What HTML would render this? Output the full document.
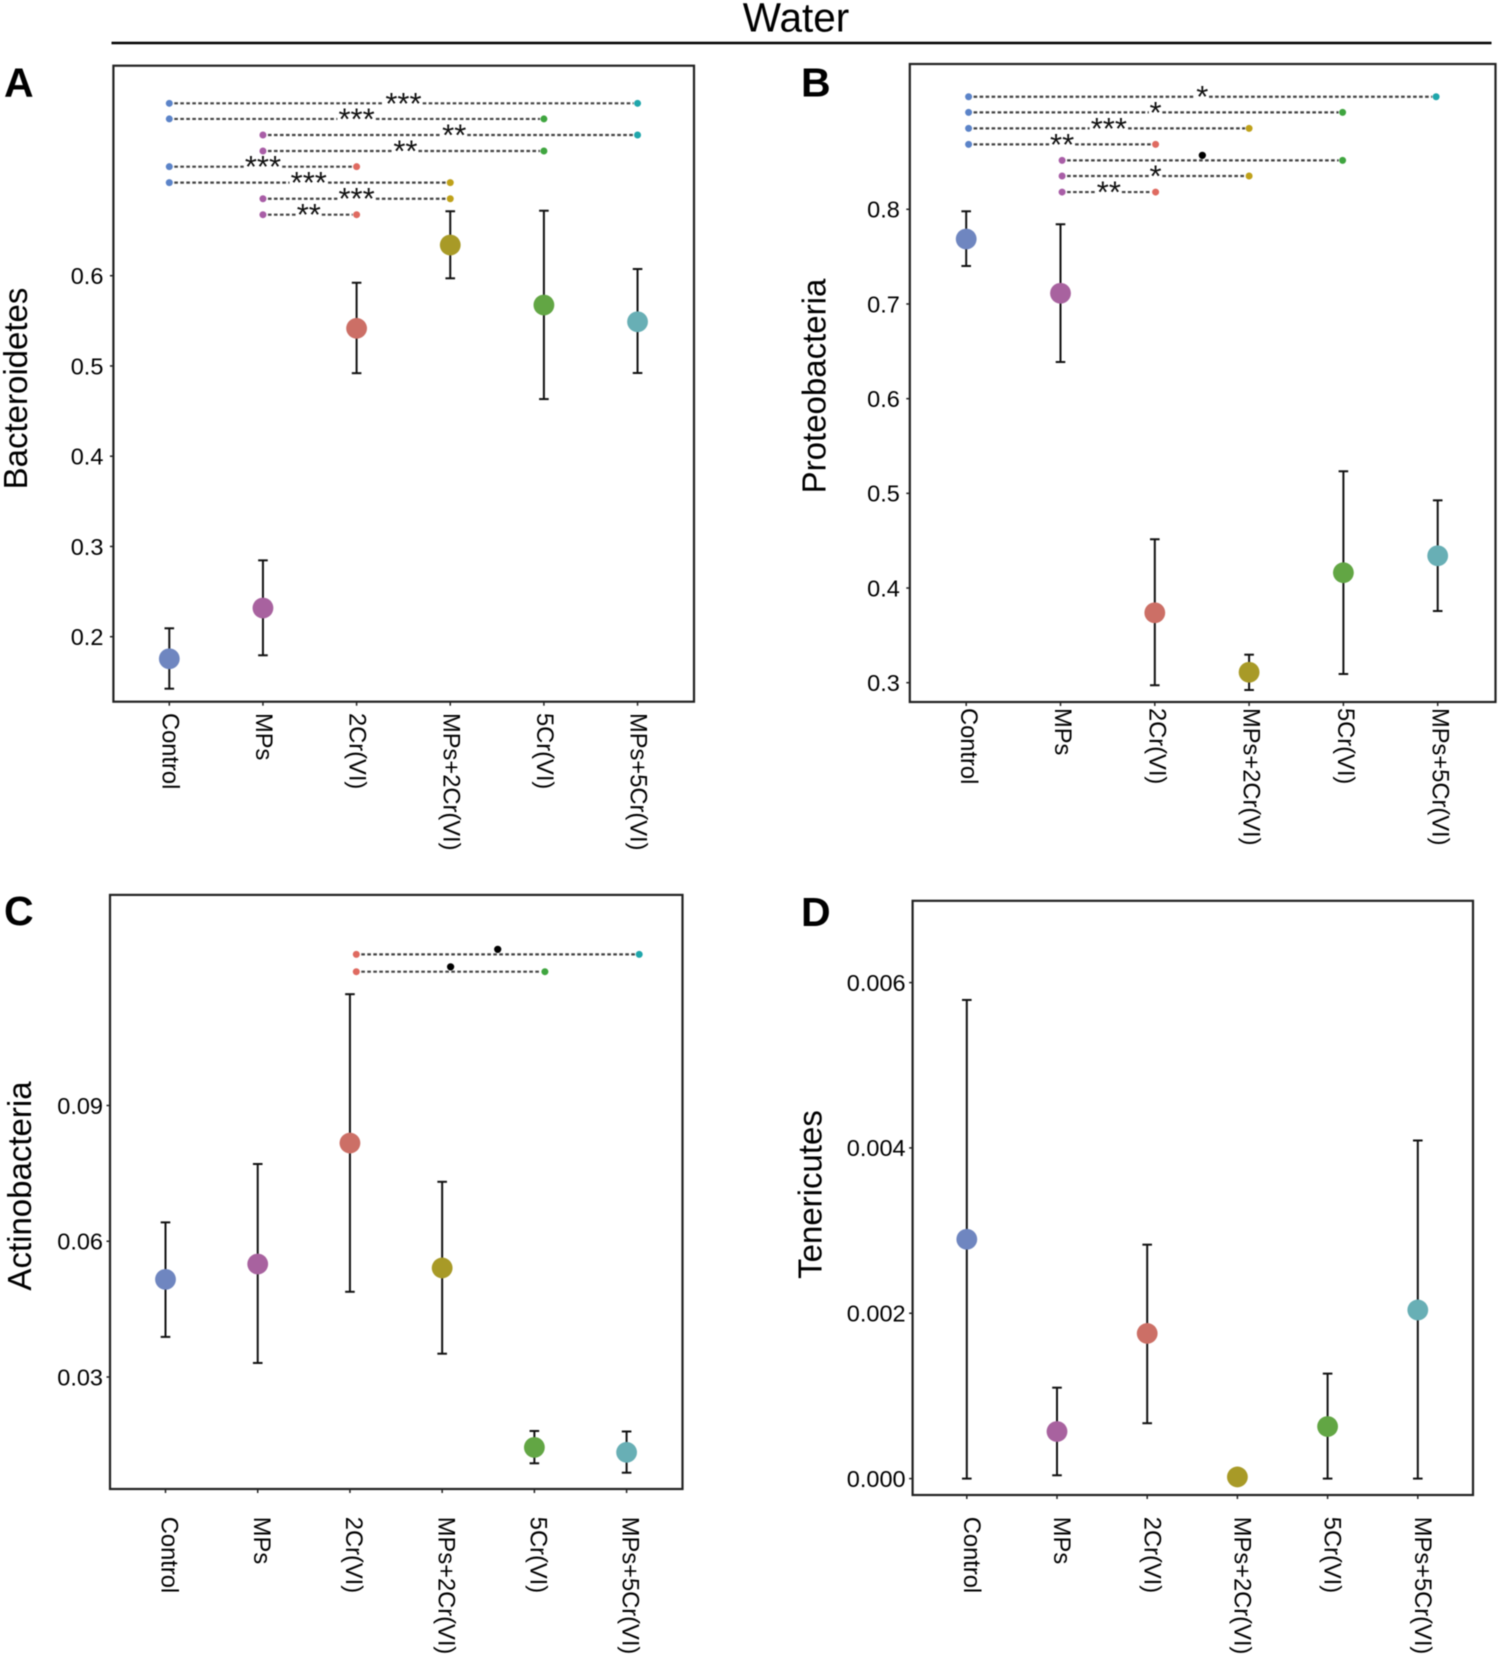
<!DOCTYPE html>
<html lang="en">
<head>
<meta charset="utf-8">
<title>Water phyla abundance</title>
<style>
html,body{margin:0;padding:0;background:#fff;}
svg{display:block;filter:blur(0.4px);}
text{font-family:"Liberation Sans",Arial,sans-serif;fill:#000;}
</style>
</head>
<body>
<svg id="fig" xmlns="http://www.w3.org/2000/svg" width="1499" height="1657" viewBox="0 0 1499 1657">
  <rect x="0" y="0" width="1499" height="1657" fill="#ffffff"/>
  <text x="796" y="31.5" font-size="40.5" text-anchor="middle">Water</text>
  <line x1="111.5" y1="43" x2="1491.5" y2="43" stroke="#000" stroke-width="2.6"/>
  <g id="panel-a"></g>
  <g id="panel-b"></g>
  <g id="panel-c"></g>
  <g id="panel-d"></g>
</svg>
<script>
// ---------- shared data ----------
const categories = ["Control", "MPs", "2Cr(VI)", "MPs+2Cr(VI)", "5Cr(VI)", "MPs+5Cr(VI)"];

// ---------- panel A: Bacteroidetes ----------
const aMeans = [0.1756, 0.2318, 0.5417, 0.634, 0.5675, 0.549];
const aUpper = [0.2093, 0.2846, 0.5922, 0.6714, 0.672, 0.6074];
const aLower = [0.1424, 0.1794, 0.492, 0.5971, 0.4633, 0.4922];
const aTicks = [0.2, 0.3, 0.4, 0.5, 0.6];
const aTickLabels = ["0.2", "0.3", "0.4", "0.5", "0.6"];
const aBracketFrom = [0, 0, 1, 1, 0, 0, 1, 1];
const aBracketTo = [5, 4, 5, 4, 2, 3, 3, 2];
const aBracketLevel = [0.791, 0.7737, 0.7559, 0.7382, 0.7208, 0.7031, 0.6853, 0.6676];
const aBracketLabel = ["***", "***", "**", "**", "***", "***", "***", "**"];

// ---------- panel B: Proteobacteria ----------
const bMeans = [0.7686, 0.7113, 0.3739, 0.311, 0.4162, 0.4341];
const bUpper = [0.7979, 0.7842, 0.4515, 0.3296, 0.5233, 0.4926];
const bLower = [0.7401, 0.6387, 0.2973, 0.2923, 0.3092, 0.3757];
const bTicks = [0.3, 0.4, 0.5, 0.6, 0.7, 0.8];
const bTickLabels = ["0.3", "0.4", "0.5", "0.6", "0.7", "0.8"];
const bBracketFrom = [0, 0, 0, 0, 1, 1, 1];
const bBracketTo = [5, 4, 3, 2, 4, 3, 2];
const bBracketLevel = [0.9189, 0.9024, 0.8855, 0.8686, 0.8517, 0.8352, 0.8182];
const bBracketLabel = ["*", "*", "***", "**", "•", "*", "**"];

// ---------- panel C: Actinobacteria ----------
const cMeans = [0.05157, 0.05497, 0.0817, 0.0541, 0.01444, 0.01336];
const cUpper = [0.06417, 0.07707, 0.1146, 0.07314, 0.01807, 0.01796];
const cLower = [0.03886, 0.0331, 0.04883, 0.03515, 0.01093, 0.00885];
const cTicks = [0.03, 0.06, 0.09];
const cTickLabels = ["0.03", "0.06", "0.09"];
const cBracketFrom = [2, 2];
const cBracketTo = [5, 4];
const cBracketLevel = [0.1234, 0.11957];
const cBracketLabel = ["•", "•"];

// ---------- panel D: Tenericutes ----------
const dMeans = [0.002895, 0.00057, 0.001756, 0.00002, 0.00063, 0.00204];
const dUpper = [0.00579, 0.0011, 0.00283, 0.00004, 0.00127, 0.00409];
const dLower = [0, 0.00004, 0.00067, 0, 0, 0];
const dTicks = [0, 0.002, 0.004, 0.006];
const dTickLabels = ["0.000", "0.002", "0.004", "0.006"];
const dBracketFrom = [];
const dBracketTo = [];
const dBracketLevel = [];
const dBracketLabel = [];

// ---------- colours ----------
const markerColors = ["#6f86c0", "#a8629f", "#cc6f66", "#a89a27", "#62a644", "#68afb5"];
const endColors = ["#5b83c8", "#a85da6", "#df6a60", "#bfa11a", "#3fa53f", "#1fa6ab"];

// ---------- layout of each panel (pixels, separate from data) ----------
const panels = [
  {id:"panel-a", key:"a", title:"Bacteroidetes", letter:"A", letterX:4, letterY:96.7, titleX:27, titleY:388.5, tickGap:10,
   frame:[113.4,65.7,694,701.7], catX0:169.3, catStep:93.65, brX0:169.3, brStep:93.65, labelY:713, labelDx:1.5,
   sigNudge:[0, 0, 4, 2, 0, -1, 0, -1],
   anchorV:0.2, anchorY:636.7, pxPerUnit:902.5, means:aMeans, upper:aUpper, lower:aLower, ticks:aTicks, tickLabels:aTickLabels,
   from:aBracketFrom, to:aBracketTo, level:aBracketLevel, sig:aBracketLabel},
  {id:"panel-b", key:"b", title:"Proteobacteria", letter:"B", letterX:801, letterY:96.7, titleX:825.5, titleY:386, tickGap:10,
   frame:[909.8,64,1495.5,702], catX0:966.2, catStep:94.3, brX0:968.6, brStep:93.5, labelY:708, labelDx:3,
   sigNudge:[0, 0, 0, 0, 0, 0, 0],
   anchorV:0.3, anchorY:682.7, pxPerUnit:946.8, means:bMeans, upper:bUpper, lower:bLower, ticks:bTicks, tickLabels:bTickLabels,
   from:bBracketFrom, to:bBracketTo, level:bBracketLevel, sig:bBracketLabel},
  {id:"panel-c", key:"c", title:"Actinobacteria", letter:"C", letterX:4, letterY:925, titleX:31, titleY:1186, tickGap:7,
   frame:[110,894.9,682.5,1489], catX0:165.5, catStep:92.22, brX0:167.7, brStep:94.3, labelY:1516.8, labelDx:4.5,
   sigNudge:[0, 0],
   anchorV:0.03, anchorY:1377, pxPerUnit:4525, means:cMeans, upper:cUpper, lower:cLower, ticks:cTicks, tickLabels:cTickLabels,
   from:cBracketFrom, to:cBracketTo, level:cBracketLevel, sig:cBracketLabel},
  {id:"panel-d", key:"d", title:"Tenericutes", letter:"D", letterX:801, letterY:926, titleX:821.7, titleY:1194.5, tickGap:7,
   frame:[912.6,900.8,1473,1495], catX0:966.8, catStep:90.2, brX0:966.8, brStep:90.2, labelY:1516.8, labelDx:5.5,
   sigNudge:[],
   anchorV:0, anchorY:1478.6, pxPerUnit:82667, means:dMeans, upper:dUpper, lower:dLower, ticks:dTicks, tickLabels:dTickLabels,
   from:dBracketFrom, to:dBracketTo, level:dBracketLevel, sig:dBracketLabel}
];

const NS = "http://www.w3.org/2000/svg";
function mk(parent, tag, attrs, txt) {
  const node = document.createElementNS(NS, tag);
  for (const k in attrs) node.setAttribute(k, attrs[k]);
  if (txt !== undefined) node.textContent = txt;
  parent.appendChild(node);
  return node;
}
function slug(s) { return s.toLowerCase().replace(/[^a-z0-9]+/g, "-").replace(/-$/, ""); }

panels.forEach(function (p) {
  const g = document.getElementById(p.id);
  const xScale = function (i) { return p.catX0 + i * p.catStep; };
  const bxScale = function (i) { return p.brX0 + i * p.brStep; };
  const yScale = function (v) { return p.anchorY - (v - p.anchorV) * p.pxPerUnit; };
  const L = p.frame[0], T = p.frame[1], R = p.frame[2], B = p.frame[3];
  let el;

  el = mk(g, "text", {x:p.letterX, y:p.letterY, "font-size":41, "font-weight":"bold", style:"fill:#000"}, p.letter);
  
  

  el = mk(g, "text", {x:p.titleX, y:p.titleY, "font-size":33, "text-anchor":"middle", transform:"rotate(-90 " + p.titleX + " " + p.titleY + ")"}, p.title);
  
  

  el = mk(g, "rect", {x:L, y:T, width:R - L, height:B - T, fill:"none", stroke:"#222", "stroke-width":2.2});
  
  

  // y axis
  p.ticks.forEach(function (v, i) {
    const y = yScale(v);
    const t = mk(g, "line", {x1:L - 3.5, y1:y, x2:L, y2:y, stroke:"#222", "stroke-width":1.5});
    
    
    const lab = mk(g, "text", {x:L - p.tickGap, y:y + 8.3, "font-size":23.5, "text-anchor":"end"}, p.tickLabels[i]);
    
    
  });

  // x axis
  categories.forEach(function (c, i) {
    const x = xScale(i);
    const t = mk(g, "line", {x1:x, y1:B, x2:x, y2:B + 4, stroke:"#222", "stroke-width":1.5});
    
    
    const lx = x + p.labelDx - 8.4;
    const lab = mk(g, "text", {x:lx, y:p.labelY, "font-size":23.7, transform:"rotate(90 " + lx + " " + p.labelY + ")"}, c);
    
    
  });

  // significance brackets
  p.from.forEach(function (a, i) {
    const x1 = bxScale(a), x2 = bxScale(p.to[i]), y = yScale(p.level[i]);
    const sig = p.sig[i], isDot = sig === "•";
    const mid = (x1 + x2) / 2 + p.sigNudge[i];
    const halfGap = isDot ? 0 : sig.length * 6.25 + 0.5;
    const lineAttrs = {y1:y, y2:y, stroke:"#444", "stroke-width":2.2, "stroke-dasharray":"3.6 2.4"};
    if (isDot) {
      lineAttrs.x1 = x1 + 5; lineAttrs.x2 = x2 - 4;
      const seg = mk(g, "line", lineAttrs);
      
      
    } else {
      lineAttrs.x1 = x1 + 5; lineAttrs.x2 = mid - halfGap;
      const segL = mk(g, "line", lineAttrs);
      
      
      lineAttrs.x1 = mid + halfGap; lineAttrs.x2 = x2 - 4;
      const segR = mk(g, "line", lineAttrs);
      
      
    }
    const e1 = mk(g, "circle", {cx:x1, cy:y, r:3.5, fill:endColors[a]});
    
    
    const e2 = mk(g, "circle", {cx:x2, cy:y, r:3.5, fill:endColors[p.to[i]]});
    
    
    const lab = mk(g, "text", isDot
      ? {x:mid, y:y + 4.1, "font-size":27, "text-anchor":"middle", style:"fill:#000"}
      : {x:mid, y:y + 10.5, "font-size":31, "text-anchor":"middle", style:"fill:#111"}, sig);
    
    
  });

  // error bars and means
  categories.forEach(function (c, i) {
    const x = xScale(i), name = slug(c);
    const yHi = yScale(p.upper[i]), yLo = yScale(p.lower[i]), yM = yScale(p.means[i]);
    const stem = mk(g, "line", {x1:x, y1:yHi, x2:x, y2:yLo, stroke:"#111", "stroke-width":2});
    
    
    const capHi = mk(g, "line", {x1:x - 4.8, y1:yHi, x2:x + 4.8, y2:yHi, stroke:"#111", "stroke-width":2});
    
    
    const capLo = mk(g, "line", {x1:x - 4.8, y1:yLo, x2:x + 4.8, y2:yLo, stroke:"#111", "stroke-width":2});
    
    
    const pt = mk(g, "circle", {cx:x, cy:yM, r:10.4, fill:markerColors[i]});
    
    
  });
});
</script>
</body>
</html>
